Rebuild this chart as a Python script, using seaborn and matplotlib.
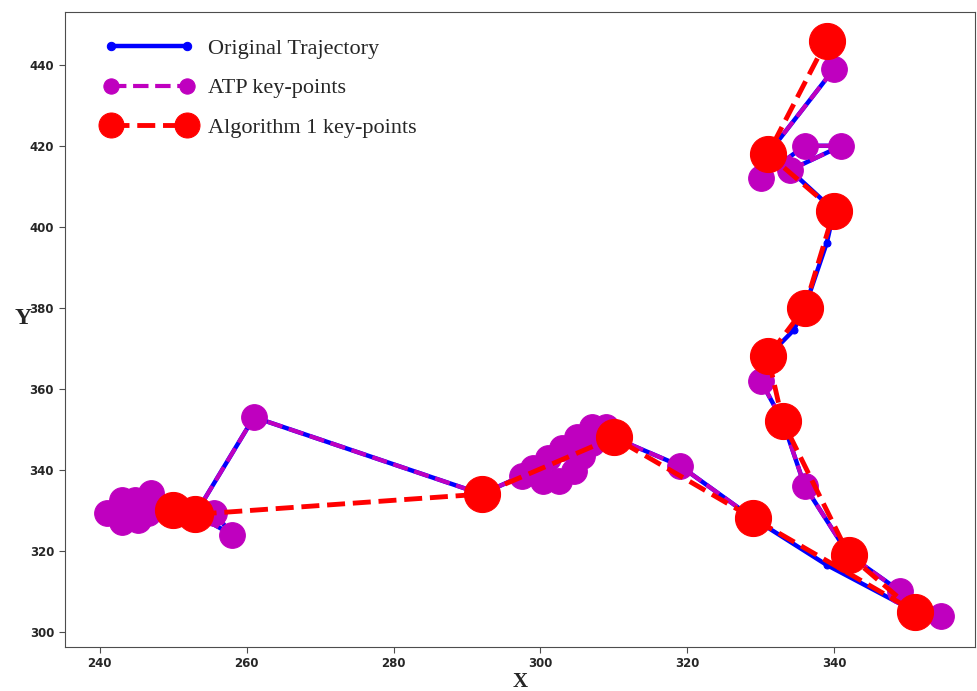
import numpy as np
import pandas as pd
import seaborn as sns
import matplotlib.pyplot as plt
from matplotlib.lines import Line2D
from matplotlib.legend_handler import HandlerLine2D

sns.set_style("ticks")
plt.rcParams["font.family"] = ["DejaVu Sans"]

# original trajectory (in order)
orig_x = [241, 243, 245.2, 243, 244.8, 247, 246.5, 250, 255.6, 258, 253, 261, 292,
          297.5, 299, 300.3, 302.6, 301, 303, 304.6, 305.7, 305, 307, 307, 309,
          310, 319, 329, 339, 351, 354.6, 349, 342, 336, 333, 330, 331, 334.5,
          336, 339, 340, 334, 341, 336, 330, 331, 340, 339]
orig_y = [329.4, 327, 327.7, 332.6, 332.6, 334.3, 329.4, 330, 329.4, 324, 329, 353, 334,
          338.5, 340.5, 337.3, 337.3, 343, 345.5, 339.7, 343.5, 348, 350.5, 346.5, 350.5,
          348, 341, 328, 316.5, 305, 304, 310, 319, 336, 352, 362, 368, 374.5,
          380, 396, 404, 414, 420, 420, 412, 418, 439, 446]

# ATP key-points (three pieces)
atp_x = [241, 243, 245.2, 243, 244.8, 247, 246.5, 255.6, 258, 253, 261, 292,
         297.5, 299, 300.3, 302.6, 301, 303, 304.6, 305.7, 305, 307, 307, 309,
         310, 319, 329,
         354.6, 349, 342, 336, 333, 330,
         334, 341, 336, 330, 331, 340]
atp_y = [329.4, 327, 327.7, 332.6, 332.6, 334.3, 329.4, 329.4, 324, 329, 353, 334,
         338.5, 340.5, 337.3, 337.3, 343, 345.5, 339.7, 343.5, 348, 350.5, 346.5, 350.5,
         348, 341, 328,
         304, 310, 319, 336, 352, 362,
         414, 420, 420, 412, 418, 439]
atp_seg = [0] * 27 + [1] * 6 + [2] * 6

# Algorithm 1 key-points
alg_x = [250, 253, 292, 310, 329, 351, 342, 333, 331, 336, 340, 331, 339]
alg_y = [330, 329, 334, 348, 328, 305, 319, 352, 368, 380, 404, 418, 446]

atp = pd.DataFrame({"x": atp_x, "y": atp_y, "seg": atp_seg})

fig, ax = plt.subplots(figsize=(9.78, 6.91), dpi=100)
fig.subplots_adjust(left=0.066, right=0.997, top=0.983, bottom=0.064)

sns.lineplot(x=orig_x, y=orig_y, sort=False, estimator=None, color="b",
             linewidth=3.2, marker="o", markersize=5, mec="b",
             label="Original Trajectory", ax=ax)
sns.lineplot(data=atp, x="x", y="y", units="seg", sort=False, estimator=None,
             color="m", linewidth=3, linestyle="--", marker="o",
             markersize=18.5, mec="m", label="ATP key-points", ax=ax)
sns.lineplot(x=alg_x, y=alg_y, sort=False, estimator=None, color="r",
             linewidth=3.5, linestyle="--", marker="o", markersize=26,
             mec="r", label="Algorithm 1 key-points", ax=ax)

ax.set_xlim(235.2, 359.2)
ax.set_ylim(296.3, 453.1)

handles, labels = ax.get_legend_handles_labels()
by_label = dict(zip(labels, handles))
leg = ax.legend(by_label.values(), by_label.keys(), loc="upper left",
                bbox_to_anchor=(0.04, 0.972), borderaxespad=0, frameon=False,
                handlelength=3.5, handletextpad=0.9, labelspacing=0.85,
                numpoints=2, prop={"family": "Liberation Serif", "size": 16},
                handler_map={Line2D: HandlerLine2D(marker_pad=0.05)})
for h, ms in zip(leg.legend_handles, [6, 11, 18]):
    h.set_markersize(ms)

ax.set_xlabel("X", family="Liberation Serif", fontweight="bold", fontsize=15)
ax.set_ylabel("Y", family="Liberation Serif", fontweight="bold", fontsize=17,
              rotation=0)
ax.yaxis.set_label_coords(-0.045, 0.5)
ax.xaxis.set_label_coords(0.5, -0.039)

ax.tick_params(labelsize=8.5, length=4, color="0.3")
for t in ax.get_xticklabels() + ax.get_yticklabels():
    t.set_fontweight("bold")
for s in ax.spines.values():
    s.set_color("0.3")

plt.savefig("out.png", dpi=100)
